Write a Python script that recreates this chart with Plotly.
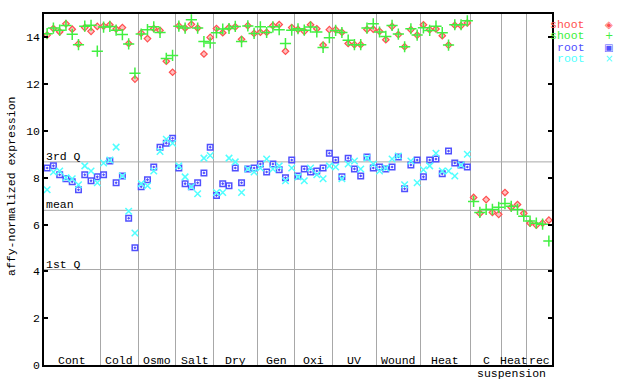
import plotly.graph_objects as go

# ---- data ----
group_names = ["Cont", "Cold", "Osmo", "Salt", "Dry", "Gen", "Oxi", "UV", "Wound", "Heat", "C", "Heat", "rec"]
group_sizes = [9, 6, 6, 6, 7, 6, 6, 7, 7, 8, 5, 4, 4]

shoot_a = [14.10, 14.38, 14.24, 14.58, 14.35, 13.72, 14.42, 14.26, 14.47,
           14.48, 14.54, 14.36, 14.42, 13.74, 12.22,
           14.18, 13.95, 14.38, 14.30, 12.98, 12.51,
           14.49, 14.40, 14.56, 14.40, 13.29, 14.00,
           14.38, 14.20, 14.42, 14.45, 13.92, 14.50, 14.17,
           14.22, 14.22, 14.50, 14.55, 13.41, 14.42,
           14.34, 14.26, 14.54, 14.37, 13.67, 14.33,
           14.33, 14.22, 13.74, 13.69, 13.69, 14.34, 14.35,
           14.26, 13.90, 14.47, 14.12, 13.60, 14.33, 14.10,
           14.54, 14.33, 14.36, 14.07, 13.67, 14.52, 14.50, 14.62,
           7.16, 6.48, 7.07, 6.52, 6.44,
           7.37, 6.74, 6.86, 6.48,
           6.06, 5.98, 6.06, 6.19]

shoot_b = [14.16, 14.40, 14.31, 14.51, 14.13, 13.69, 14.48, 14.52, 13.41,
           14.44, 14.47, 14.31, 14.12, 13.72, 12.47,
           14.14, 14.33, 14.45, 14.21, 13.10, 13.23,
           14.48, 14.40, 14.75, 14.40, 13.82, 13.76,
           14.20, 14.36, 14.38, 14.47, 13.82, 14.49, 14.17,
           14.45, 14.21, 14.45, 14.33, 13.74, 14.31,
           14.37, 14.31, 14.44, 14.23, 13.57, 13.99,
           14.30, 14.21, 13.88, 13.69, 13.69, 14.40, 14.58,
           14.23, 14.04, 14.51, 14.14, 13.60, 14.37, 14.10,
           14.41, 14.30, 14.48, 14.20, 13.67, 14.54, 14.54, 14.71,
           6.99, 6.52, 6.65, 6.65, 6.74,
           6.90, 6.78, 6.65, 6.36,
           6.15, 6.06, 6.02, 5.30]

root_a = [8.42, 8.51, 8.13, 7.96, 7.83, 7.49, 8.13, 7.87, 8.04,
          8.13, 8.72, 7.79, 8.08, 6.27, 5.01,
          7.62, 7.92, 8.46, 9.31, 9.48, 9.69,
          8.42, 7.75, 7.62, 7.79, 8.21, 9.31,
          7.24, 7.75, 7.66, 8.42, 7.79, 8.38, 8.42,
          8.59, 8.25, 8.59, 8.34, 8.00, 8.76,
          8.08, 8.38, 8.25, 8.29, 8.42, 9.05,
          8.76, 8.04, 8.84, 8.38, 8.08, 8.89, 8.42,
          8.46, 8.38, 8.46, 8.89, 7.53, 8.55, 8.76,
          8.04, 8.76, 8.80, 8.17, 9.14, 8.63, 8.55, 8.46] + [None] * 13

root_b = [7.49, 8.25, 8.29, 8.00, 7.96, 7.70, 8.51, 8.29, 7.79,
          8.63, 8.76, 9.31, 8.08, 6.57, 5.64,
          7.75, 7.66, 8.29, 9.12, 9.65, 9.48,
          8.51, 8.04, 7.62, 7.32, 8.84, 8.95,
          7.37, 7.37, 8.84, 8.68, 7.37, 8.38, 8.25,
          8.42, 8.80, 8.38, 8.51, 7.87, 8.42,
          8.04, 7.87, 8.42, 8.13, 7.96, 8.51,
          8.46, 7.96, 8.59, 8.72, 8.38, 8.84, 8.59,
          8.29, 8.42, 8.80, 8.93, 7.70, 8.72, 7.79,
          8.34, 8.51, 9.05, 8.29, 8.29, 8.08, 8.55, 9.01] + [None] * 13

quartile_names = ["3rd Q", "mean", "1st Q"]
quartile_values = [8.68, 6.61, 4.08]

y_ticks = [0, 2, 4, 6, 8, 10, 12, 14]
legend_names = ["shoot", "shoot", "root", "root"]

# ---- derived ----
n = sum(group_sizes)
xs = [i + 0.5 for i in range(n)]
bounds = []
c = 0
centers = []
for s in group_sizes:
    centers.append(c + s / 2)
    c += s
    bounds.append(c)

RED = "#ff5050"
GREEN = "#40f040"
BLUE = "#5050ff"
CYAN = "#50ffff"
FONT = "Liberation Mono"

fig = go.Figure()
fig.add_trace(go.Scatter(x=xs, y=shoot_a, mode="markers", name="shoot",
                         marker=dict(symbol="diamond", size=5, color="#ffc0c0",
                                     line=dict(color=RED, width=1.2))))
fig.add_trace(go.Scatter(x=xs, y=shoot_b, mode="markers", name="shoot",
                         marker=dict(symbol="cross-thin-open", size=8, color=GREEN,
                                     line=dict(color=GREEN, width=1.5))))
fig.add_trace(go.Scatter(x=xs, y=root_a, mode="markers", name="root",
                         marker=dict(symbol="square-open-dot", size=5.5, color=BLUE,
                                     line=dict(color=BLUE, width=1.5))))
fig.add_trace(go.Scatter(x=xs, y=root_b, mode="markers", name="root",
                         marker=dict(symbol="x-thin-open", size=6.5, color=CYAN,
                                     line=dict(color=CYAN, width=1.5))))

shapes = []
for v in quartile_values:
    shapes.append(dict(type="line", xref="paper", yref="y", x0=0, x1=1, y0=v, y1=v,
                       line=dict(color="#a8a8a8", width=1), layer="below"))

annotations = []
for name, v in zip(quartile_names, quartile_values):
    annotations.append(dict(x=0, xref="paper", y=v, yref="y", text=name, showarrow=False,
                            xanchor="left", yanchor="bottom", yshift=-3,
                            font=dict(family=FONT, size=11.5, color="black")))
for name, cx in zip(group_names, centers):
    annotations.append(dict(x=cx, xref="x", y=0.014, yref="paper", text=name, showarrow=False,
                            xanchor="center", yanchor="middle",
                            font=dict(family=FONT, size=11.5, color="black")))
annotations.append(dict(x=(bounds[9] + bounds[12]) / 2, xref="x", y=-0.023, yref="paper",
                        text="suspension", showarrow=False, xanchor="center", yanchor="middle",
                        font=dict(family=FONT, size=11.5, color="black")))
annotations.append(dict(x=-0.063, xref="paper", y=0.51, yref="paper",
                        text="affy-normalized expression", textangle=-90, showarrow=False,
                        xanchor="center", yanchor="middle",
                        font=dict(family=FONT, size=11.5, color="black")))

leg_cols = [RED, GREEN, BLUE, CYAN]
leg_syms = ["◈", "+", "▣", "×"]
leg_y = [0.970, 0.938, 0.904, 0.874]
for name, col, sym, ly in zip(legend_names, leg_cols, leg_syms, leg_y):
    annotations.append(dict(x=1.068, xref="paper", y=ly, yref="paper", text=name, showarrow=False,
                            xanchor="right", yanchor="middle",
                            font=dict(family=FONT, size=11.5, color=col)))
    annotations.append(dict(x=1.112, xref="paper", y=ly, yref="paper", text=sym, showarrow=False,
                            xanchor="center", yanchor="middle",
                            font=dict(family="DejaVu Sans", size=10, color=col)))

fig.update_layout(
    width=640, height=384,
    margin=dict(l=44, r=88, t=13, b=15),
    paper_bgcolor="white", plot_bgcolor="white",
    showlegend=False,
    shapes=shapes, annotations=annotations,
    xaxis=dict(range=[0, n], tickvals=bounds, showticklabels=False, ticks="",
               showgrid=True, gridcolor="#a8a8a8", gridwidth=1, zeroline=False,
               showline=True, linecolor="black", linewidth=1.5, mirror=True),
    yaxis=dict(range=[0, 15], tickvals=y_ticks, ticks="inside", ticklen=4, tickwidth=1.5,
               tickcolor="black", showgrid=False, zeroline=False,
               showline=True, linecolor="black", linewidth=1.5, mirror="ticks",
               tickfont=dict(family=FONT, size=11.5, color="black")),
)

fig.write_html("out.html", config={"displayModeBar": False},
               post_script="document.body.style.margin='0px';document.body.style.overflow='hidden';")
